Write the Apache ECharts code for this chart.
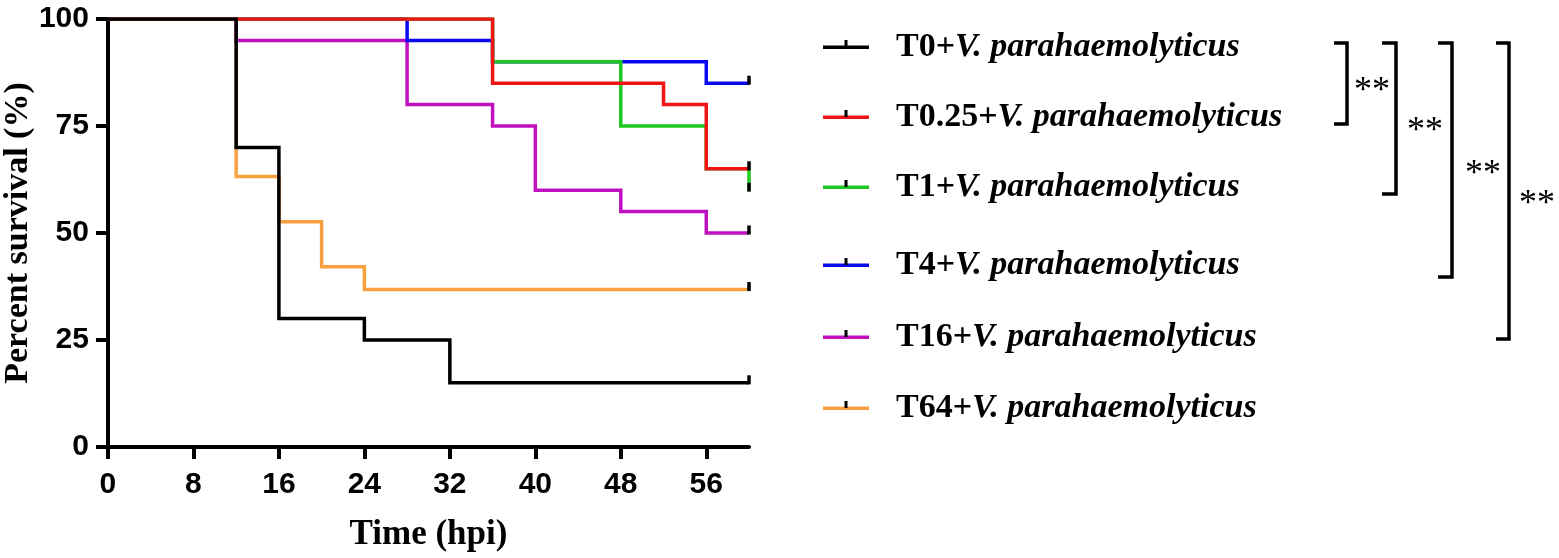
<!DOCTYPE html>
<html lang="en">
<head>
    <meta charset="UTF-8">
    <title>Percent survival</title>
    <script src="https://cdn.jsdelivr.net/npm/echarts@6/dist/echarts.min.js"></script>
    <style>
        body { margin: 0; padding: 0; background: #fff; }
        #chartContainer { width: 1559px; height: 558px; }
    </style>
</head>
<body>
    <div id="chartContainer"></div>

    <script>
        // group names (legend order)
        const groupNames = [
            'T0+V. parahaemolyticus',
            'T0.25+V. parahaemolyticus',
            'T1+V. parahaemolyticus',
            'T4+V. parahaemolyticus',
            'T16+V. parahaemolyticus',
            'T64+V. parahaemolyticus'
        ];
        const groupColors = ['#000000', '#f01414', '#1ec81e', '#0a0af0', '#c010c0', '#f7a040'];

        // Kaplan-Meier steps: time (hpi) where survival changes, and survival (%)
        const timesT0 = [0, 12, 16, 24, 32, 60];
        const survT0 = [100, 70, 30, 25, 15, 15];
        const timesT025 = [0, 36, 52, 56, 60];
        const survT025 = [100, 85, 80, 65, 65];
        const timesT1 = [0, 36, 48, 56, 60];
        const survT1 = [100, 90, 75, 65, 60];
        const timesT4 = [0, 28, 36, 56, 60];
        const survT4 = [100, 95, 90, 85, 85];
        const timesT16 = [0, 12, 28, 36, 40, 48, 56, 60];
        const survT16 = [100, 95, 80, 75, 60, 55, 50, 50];
        const timesT64 = [0, 12, 16, 20, 24, 60];
        const survT64 = [100, 63.2, 52.6, 42.1, 36.8, 36.8];

        const groupTimes = [timesT0, timesT025, timesT1, timesT4, timesT16, timesT64];
        const groupSurv = [survT0, survT025, survT1, survT4, survT16, survT64];

        const xTicks = [0, 8, 16, 24, 32, 40, 48, 56];
        const yTicks = [0, 25, 50, 75, 100];

        // drawing order: orange at the bottom, black on top
        const drawOrder = [5, 4, 3, 2, 1, 0];

        // legend row centres (px)
        const legendRows = [47, 117, 187, 265, 337, 408];

        // significance brackets: [armLeft, x, yTop, yBottom, labelX, labelY]
        const brackets = [
            [1334, 1347, 43, 124, 1354, 92],
            [1382, 1396, 43, 194, 1407, 132],
            [1438, 1452, 43, 277, 1465, 175],
            [1496, 1509, 43, 339, 1519, 205]
        ];

        function legendIcon(color) {
            const svg = '<svg xmlns="http://www.w3.org/2000/svg" width="68" height="20">' +
                '<rect x="0" y="8.5" width="46" height="3.5" fill="' + color + '"/>' +
                '<rect x="21.5" y="3" width="3" height="7" fill="#000"/></svg>';
            return 'image://data:image/svg+xml;charset=utf-8,' + encodeURIComponent(svg);
        }

        const chart = echarts.init(document.getElementById('chartContainer'));

        const series = drawOrder.map(i => {
            const pts = groupTimes[i].map((t, k) => [t, groupSurv[i][k]]);
            const last = pts[pts.length - 1];
            return {
                name: groupNames[i],
                type: 'line',
                step: 'end',
                showSymbol: false,
                data: pts,
                color: groupColors[i],
                lineStyle: { color: groupColors[i], width: 3.5, join: 'miter', cap: 'butt' },
                markPoint: {
                    silent: true,
                    symbol: 'rect',
                    symbolSize: [3.5, 9],
                    symbolOffset: [0, -3],
                    itemStyle: { color: '#000' },
                    label: { show: false },
                    data: [{ coord: last }]
                }
            };
        });

        const legends = groupNames.map((name, i) => ({
            data: [{ name: name, icon: legendIcon(groupColors[i]) }],
            left: 823,
            top: legendRows[i] - 17,
            orient: 'vertical',
            padding: 0,
            itemWidth: 68,
            itemHeight: 20,
            selectedMode: false,
            formatter: n => {
                const p = n.indexOf('+');
                return '{a|' + n.slice(0, p + 1) + '}{b|' + n.slice(p + 1) + '}';
            },
            textStyle: {
                rich: {
                    a: { fontFamily: 'Liberation Serif', fontWeight: 'bold', fontSize: 34, lineHeight: 34, color: '#000' },
                    b: { fontFamily: 'Liberation Serif', fontWeight: 'bold', fontStyle: 'italic', fontSize: 34, lineHeight: 34, color: '#000' }
                }
            }
        }));

        const graphics = [];
        brackets.forEach(b => {
            graphics.push({
                type: 'polyline',
                silent: true,
                shape: { points: [[b[0], b[2]], [b[1], b[2]], [b[1], b[3]], [b[0], b[3]]] },
                style: { stroke: '#000', lineWidth: 3.5, fill: null, lineJoin: 'miter' }
            });
            graphics.push({
                type: 'text',
                silent: true,
                x: b[4],
                y: b[5],
                style: {
                    text: '**',
                    font: '36px "Liberation Serif"',
                    fill: '#000',
                    textVerticalAlign: 'middle'
                }
            });
        });

        const axisLabelStyle = { fontFamily: 'Liberation Sans', fontWeight: 'bold', fontSize: 30, color: '#000' };

        const option = {
            animation: false,
            backgroundColor: '#fff',
            grid: { left: 106, top: 19, width: 643, height: 428 },
            legend: legends,
            xAxis: {
                type: 'value',
                min: 0,
                max: 60,
                interval: 8,
                name: 'Time (hpi)',
                nameLocation: 'middle',
                nameGap: 70,
                nameTextStyle: { fontFamily: 'Liberation Serif', fontWeight: 'bold', fontSize: 35, color: '#000' },
                axisLine: { show: true, lineStyle: { color: '#000', width: 4 } },
                axisTick: { show: true, length: 12, lineStyle: { color: '#000', width: 4 }, customValues: xTicks },
                axisLabel: Object.assign({ margin: 23, customValues: xTicks }, axisLabelStyle),
                splitLine: { show: false }
            },
            yAxis: {
                type: 'value',
                min: 0,
                max: 100,
                interval: 25,
                name: 'Percent survival (%)',
                nameLocation: 'middle',
                nameGap: 64,
                nameTextStyle: { fontFamily: 'Liberation Serif', fontWeight: 'bold', fontSize: 34, color: '#000' },
                axisLine: { show: true, lineStyle: { color: '#000', width: 4 } },
                axisTick: { show: true, length: 12, lineStyle: { color: '#000', width: 4 }, customValues: yTicks },
                axisLabel: Object.assign({ margin: 19, customValues: yTicks }, axisLabelStyle),
                splitLine: { show: false }
            },
            graphic: graphics,
            series: series
        };

        chart.setOption(option);
    </script>
</body>
</html>
